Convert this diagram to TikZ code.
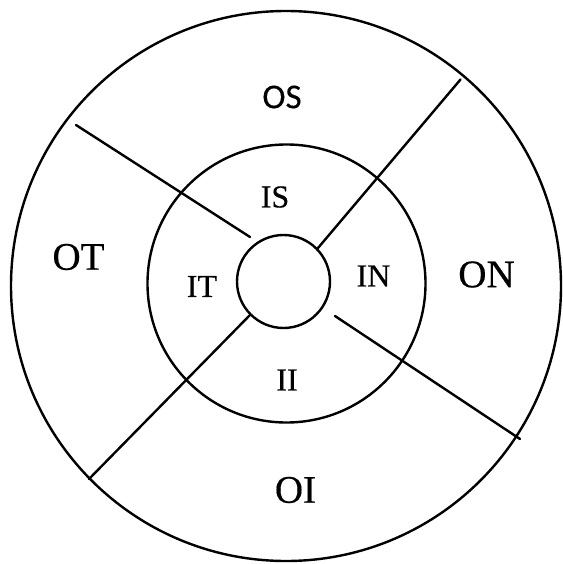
\documentclass[tikz,border=0pt]{standalone}
\usepackage{fontspec}
\setmainfont{Liberation Serif}
\newfontfamily\labelserif{Liberation Serif}[FakeBold=0.4]
\newfontfamily\labelsans{Carlito}[FakeBold=0.3]
\usetikzlibrary{positioning}

\begin{document}
\begin{tikzpicture}[
  x=1pt, y=-1pt,
  ring/.style={draw=black, line width=2.4pt},
  spoke/.style={draw=black, line width=2.4pt, line cap=round},
  outerlbl/.style={font=\labelserif\fontsize{39}{42}\selectfont, inner sep=0pt},
  innerlbl/.style={font=\labelserif\fontsize{32}{35}\selectfont, inner sep=0pt},
  sanslbl/.style={font=\labelsans\fontsize{35}{38}\selectfont, inner sep=0pt}
]
\useasboundingbox (0,0) rectangle (562,564);

% ---- RINGS ----
\draw[ring] (286,286) circle[radius=275];
\draw[ring] (286.5,283.5) circle[radius=139];
\draw[ring] (283.5,281.5) circle[radius=46.5];

% ---- SPOKES ----
\coordinate (ulin) at (250,237);
\coordinate (ulout) at (76,125);
\coordinate (urin) at (318,248);
\coordinate (urout) at (460.5,79.5);
\coordinate (llin) at (250,315);
\coordinate (llout) at (89,479);
\coordinate (lrin) at (335,316);
\coordinate (lrout) at (520,439);
\draw[spoke] (ulin) -- (ulout);
\draw[spoke] (urin) -- (urout);
\draw[spoke] (llin) -- (llout);
\draw[spoke] (lrin) -- (lrout);

% ---- OUTER LABELS ----
\node[sanslbl] (os) at (282,97) {OS};
\node[outerlbl] (ot) at (78.5,257) {OT};
\node[outerlbl] (on) at (486.5,274.5) {ON};
\node[outerlbl] (oi) at (295.5,490) {OI};

% ---- INNER LABELS ----
\node[innerlbl] (is) at (275,197) {IS};
\node[innerlbl] (it) at (202,286.5) {IT};
\node[innerlbl] (in) at (373.5,276) {IN};
\node[innerlbl] (ii) at (287,380) {II};
\end{tikzpicture}
\end{document}
